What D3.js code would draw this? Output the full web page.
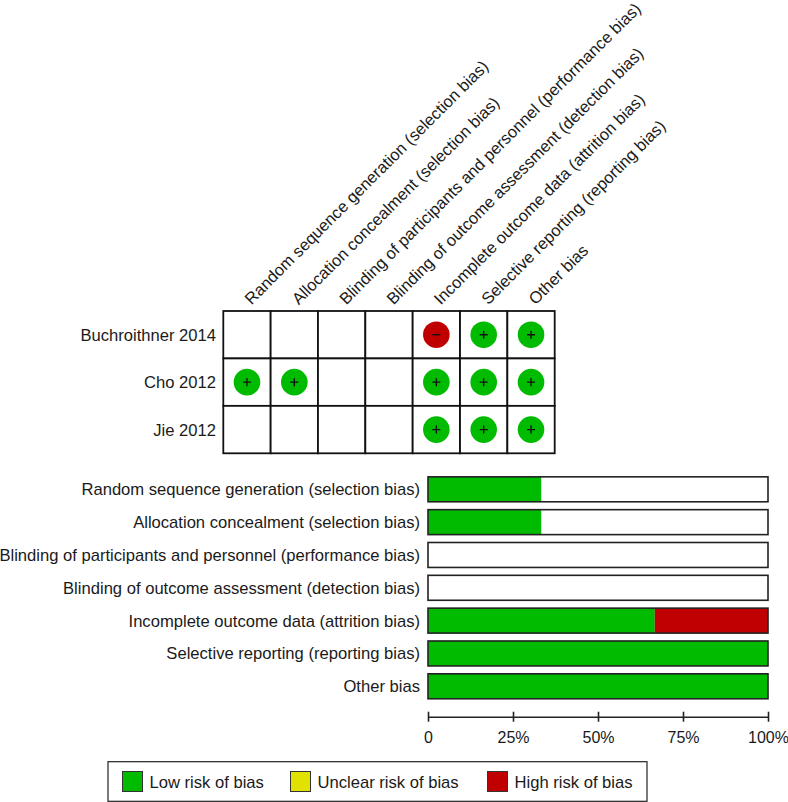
<!DOCTYPE html>
<html><head><meta charset="utf-8">
<script src="https://cdn.jsdelivr.net/npm/d3@7"></script>
<style>html,body{margin:0;padding:0;background:#fff}svg{display:block}text{font-family:"Liberation Sans",Arial,sans-serif;fill:#1a1a1a}</style>
</head><body><div id="c"></div>
<script>
const domains=["Random sequence generation (selection bias)","Allocation concealment (selection bias)","Blinding of participants and personnel (performance bias)","Blinding of outcome assessment (detection bias)","Incomplete outcome data (attrition bias)","Selective reporting (reporting bias)","Other bias"];
const studies=["Buchroithner 2014","Cho 2012","Jie 2012"];
const judgements=[["","","","","-","+","+"],["+","+","","","+","+","+"],["","","","","+","+","+"]];
const lowPct=[33.3,33.3,0,0,66.7,100,100];
const highPct=[0,0,0,0,33.3,0,0];
const ticks=[0,25,50,75,100];
const tickLabels=["0","25%","50%","75%","100%"];
const legendLabels=["Low risk of bias","Unclear risk of bias","High risk of bias"];
const legendColors=["#00bb00","#e2e200","#c00000"];
const legendX=[122.5,290.5,487.5];

const GREEN="#00bb00",RED="#c00000";
const svg=d3.select("#c").append("svg").attr("width",788).attr("height",802);
const fs=16.6;

// Risk table
const gx=d3.scaleBand().domain(domains).range([223.3,554.7]);
const gy=d3.scaleBand().domain(studies).range([311,453.3]);
const g=svg.append("g");
studies.forEach((s,i)=>domains.forEach((d,j)=>{
  g.append("rect").attr("x",gx(d)).attr("y",gy(s)).attr("width",gx.bandwidth()).attr("height",gy.bandwidth())
   .attr("fill","#fff").attr("stroke","#111").attr("stroke-width",1.8);
  const v=judgements[i][j];
  if(!v)return;
  const cx=gx(d)+gx.bandwidth()/2,cy=gy(s)+gy.bandwidth()/2;
  g.append("circle").attr("cx",cx).attr("cy",cy).attr("r",13.3).attr("fill",v==="+"?GREEN:RED);
  g.append("path").attr("d",v==="+"?`M${cx-4},${cy}H${cx+4}M${cx},${cy-4}V${cy+4}`:`M${cx-4},${cy}H${cx+4}`)
   .attr("stroke","#111").attr("stroke-width",1.4).attr("fill","none");
}));
studies.forEach(s=>g.append("text").attr("x",216).attr("y",gy(s)+gy.bandwidth()/2+6).attr("text-anchor","end").attr("font-size",fs).text(s));
domains.forEach(d=>{
  const x=gx(d)+gx.bandwidth()/2+4.5, y=305.5;
  g.append("text").attr("transform",`translate(${x},${y}) rotate(-45)`).attr("font-size",16.5).text(d);
});

// Summary bars
const bx=d3.scaleLinear().domain([0,100]).range([428,768]);
const by=d3.scaleBand().domain(domains).range([472.9,702.7]).paddingInner(0.24).paddingOuter(0.12);
const b=svg.append("g");
domains.forEach((d,i)=>{
  const y=by(d),h=by.bandwidth();
  b.append("rect").attr("x",bx(0)).attr("y",y).attr("width",bx(100)-bx(0)).attr("height",h).attr("fill","#fff");
  b.append("rect").attr("x",bx(0)).attr("y",y).attr("width",bx(lowPct[i])-bx(0)).attr("height",h).attr("fill",GREEN);
  b.append("rect").attr("x",bx(lowPct[i])).attr("y",y).attr("width",bx(highPct[i])-bx(0)).attr("height",h).attr("fill",RED);
  b.append("rect").attr("x",bx(0)).attr("y",y).attr("width",bx(100)-bx(0)).attr("height",h).attr("fill","none").attr("stroke","#222").attr("stroke-width",1.6);
  b.append("text").attr("x",420).attr("y",y+h/2+6).attr("text-anchor","end").attr("font-size",fs).text(d);
});

// Axis
const axis=d3.axisBottom(bx).tickValues(ticks).tickFormat((t,i)=>tickLabels[i]).tickSize(5).tickSizeOuter(0);
const ax=svg.append("g").attr("transform","translate(0,716.7)").call(axis);
ax.select(".domain").attr("stroke","#222").attr("stroke-width",1.6);
ax.selectAll(".tick line").attr("stroke","#222").attr("stroke-width",1.6).attr("y1",-5).attr("y2",5);
ax.selectAll(".tick text").attr("font-size",16).attr("font-family","'Liberation Sans',Arial,sans-serif").attr("y",0).attr("dy",26);

// Legend
const l=svg.append("g");
l.append("rect").attr("x",108).attr("y",761.7).attr("width",539).attr("height",39.6).attr("fill","#fff").attr("stroke","#222").attr("stroke-width",1.2);
legendLabels.forEach((t,i)=>{
  l.append("rect").attr("x",legendX[i]).attr("y",771.5).attr("width",20).attr("height",20).attr("fill",legendColors[i]).attr("stroke","#333").attr("stroke-width",1);
  l.append("text").attr("x",legendX[i]+27).attr("y",787.5).attr("font-size",fs).text(t);
});
</script></body></html>
